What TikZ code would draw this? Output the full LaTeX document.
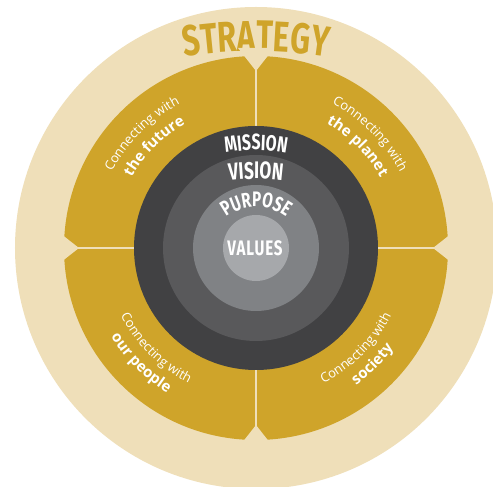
\documentclass[tikz,border=0pt]{standalone}
\usepackage{fontspec}
\usepackage{tikz}
\usetikzlibrary{decorations.text}
\newfontfamily\capfont[FakeStretch=0.72,LetterSpace=4]{Fira Sans}
\newfontfamily\opensans{Open Sans}
\definecolor{beige}{HTML}{EFDFB9}
\definecolor{gold}{HTML}{CFA42A}
\definecolor{ringA}{HTML}{414143}
\definecolor{ringB}{HTML}{59595B}
\definecolor{ringC}{HTML}{808285}
\definecolor{ringD}{HTML}{A6A8AB}
\newcommand{\lite}{|\opensans\fontsize{13}{13}\selectfont\color{white}|}
\newcommand{\bold}{|\opensans\bfseries\fontsize{15}{15}\selectfont\color{white}|}
\newcommand{\head}[1]{|\capfont\bfseries\fontsize{#1}{#1}\selectfont\color{white}|}

\begin{document}
\begin{tikzpicture}[x=1pt,y=1pt,
  curved/.style={decorate,decoration={text along path,text align=center,text={#1}}}]
\useasboundingbox (-256,-239) rectangle (237,248);
\clip (-256,-239) rectangle (237,248);
%outer ring
\fill[beige] (0,0) circle (241);
\path[curved={|\capfont\bfseries\fontsize{43}{43}\selectfont\color{gold}|STRATEGY}]
  ([shift={(0,-253)}]110:450) arc[start angle=110,end angle=70,radius=450];
%quadrants
\fill[gold] (0,0) circle (192);
\draw[beige,line width=2] (0,-192) -- (0,192);
\draw[beige,line width=2] (-192,0) -- (192,0);
\fill[beige] (0,177) -- (-18,200) -- (18,200) -- cycle;
\fill[beige] (0,-177) -- (-18,-200) -- (18,-200) -- cycle;
\fill[beige] (-177,0) -- (-200,-18) -- (-200,18) -- cycle;
\fill[beige] (177,0) -- (200,-18) -- (200,18) -- cycle;
\path[curved={\lite Connecting with}] (175:163) arc[start angle=175,end angle=95,radius=163];
\path[curved={\bold the future}] (175:143) arc[start angle=175,end angle=95,radius=143];
\path[curved={\lite Connecting with}] (85:163) arc[start angle=85,end angle=5,radius=163];
\path[curved={\bold the planet}] (85:143) arc[start angle=85,end angle=5,radius=143];
\path[curved={\lite Connecting with}] (185:151) arc[start angle=185,end angle=265,radius=151];
\path[curved={\bold our people}] (185:170) arc[start angle=185,end angle=265,radius=170];
\path[curved={\lite Connecting with}] (275:151) arc[start angle=275,end angle=355,radius=151];
\path[curved={\bold society}] (275:170) arc[start angle=275,end angle=355,radius=170];
%core
\fill[ringA] (0,0) circle (122);
\fill[ringB] (0,0) circle (93);
\fill[ringC] (0,0) circle (63);
\fill[ringD] (0,0) circle (33);
\path[curved={\head{22}MISSION}]
  ([shift={(0,-62)}]115:160) arc[start angle=115,end angle=65,radius=160];
\path[curved={\head{24}VISION}]
  ([shift={(0,-131)}]110:200) arc[start angle=110,end angle=70,radius=200];
\path[curved={\head{21}PURPOSE}]
  ([shift={(0,-9)}]160:50) arc[start angle=160,end angle=20,radius=50];
\node[font=\capfont\bfseries\fontsize{21}{21}\selectfont,text=white] (values) at (-1,0) {VALUES};
\end{tikzpicture}
\end{document}
